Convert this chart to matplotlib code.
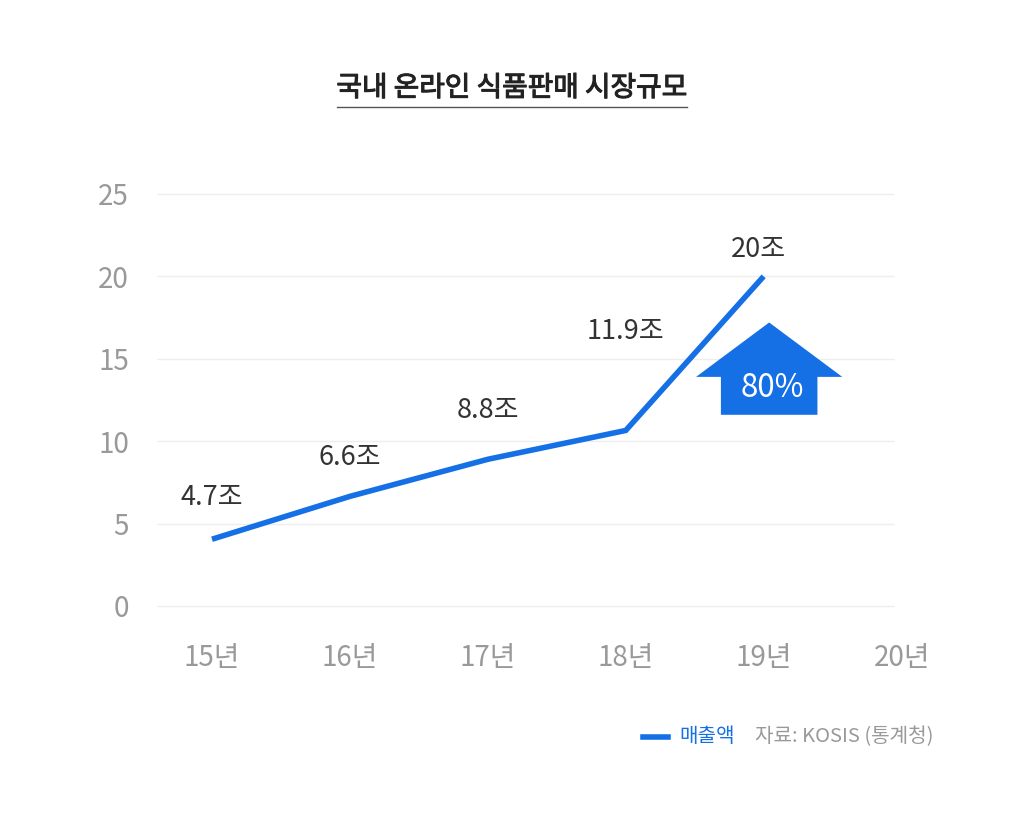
import matplotlib
matplotlib.use("Agg")
import matplotlib.pyplot as plt
from matplotlib.patches import Polygon
from matplotlib.lines import Line2D
import matplotlib.patheffects as pe

plt.rcParams['font.family'] = ['Noto Sans CJK KR', 'DejaVu Sans']

# ---- data ----
years = ['15년', '16년', '17년', '18년', '19년', '20년']
sales = [4.05, 6.65, 8.9, 10.65, 20.0]
value_labels = ['4.7조', '6.6조', '8.8조', '11.9조', '20조']
y_ticks = [0, 5, 10, 15, 20, 25]
growth_text = '80%'
title = '국내 온라인 식품판매 시장규모'
series_name = '매출액'
source = '자료: KOSIS (통계청)'

BLUE = '#1570E6'
GREY = '#999999'
DARK = '#333333'

fig = plt.figure(figsize=(10.25, 8.19), dpi=100)
ax = fig.add_axes([0.153, 0.2601, 0.7804, 0.5031])
ax.set_xlim(-0.4, 5.4)
ax.set_ylim(0, 25)

# grid lines
ax.hlines(y_ticks, -0.4, 4.946, color='#eeeeee', lw=1, zorder=0, clip_on=False)

# line
x = list(range(len(sales)))
ax.plot(x, sales, color=BLUE, lw=4, solid_capstyle='butt', solid_joinstyle='miter', clip_on=False, zorder=3)

# value labels (pixel offsets)
offsets = [(0, 42), (0, 39), (0, 49), (0, 99), (-5, 27)]
for xi, v, lab, (dx, dy) in zip(x, sales, value_labels, offsets):
    ax.annotate(lab, (xi, v), xytext=(dx * 0.72, dy * 0.72), textcoords='offset points',
                ha='center', va='center', fontsize=19.5, color=DARK)

# arrow
arrow = Polygon([(4.04, 17.2), (4.57, 13.9), (4.39, 13.9), (4.39, 11.6),
                 (3.69, 11.6), (3.69, 13.9), (3.51, 13.9)],
                closed=True, facecolor=BLUE, edgecolor='none', zorder=4)
ax.add_patch(arrow)
ax.text(4.06, 13.25, growth_text, ha='center', va='center', color='white', fontsize=22.5, zorder=5)

# axes styling
for s in ax.spines.values():
    s.set_visible(False)
ax.set_xticks(range(len(years)))
ax.set_xticklabels(years)
ax.set_yticks(y_ticks)
ax.tick_params(axis='both', length=0, labelsize=20, labelcolor=GREY)
ax.tick_params(axis='y', pad=20)
ax.tick_params(axis='x', pad=26.5)

# title with underline
fig.text(511.5 / 1025, 1 - 88 / 819, title, ha='center', va='center', fontsize=20,
         color='#222222',
         path_effects=[pe.withStroke(linewidth=0.8, foreground='#222222')])
fig.add_artist(Line2D([337 / 1025, 687 / 1025], [1 - 107 / 819, 1 - 107 / 819],
                      color='#555555', lw=1))

# legend
fig.add_artist(Line2D([643 / 1025, 668 / 1025], [1 - 737 / 819, 1 - 737 / 819],
                      color=BLUE, lw=4))
fig.text(679 / 1025, 1 - 737 / 819, series_name, ha='left', va='center', fontsize=14.5, color=BLUE)
fig.text(755 / 1025, 1 - 737 / 819, source, ha='left', va='center', fontsize=14.5, color=GREY)

fig.savefig('out.png', dpi=100, facecolor='white')
